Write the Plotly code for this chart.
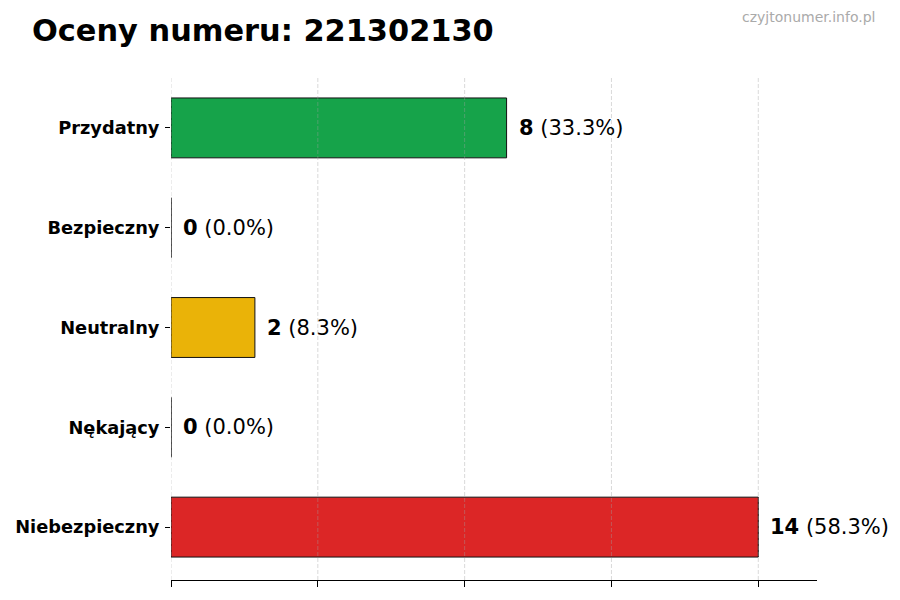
import plotly.graph_objects as go

# dane
categories = ["Przydatny", "Bezpieczny", "Neutralny", "Nękający", "Niebezpieczny"]
counts = [8, 0, 2, 0, 14]
colors = ["#16a34a", "#16a34a", "#eab308", "#eab308", "#dc2626"]
grid_ticks = [0, 3.5, 7, 10.5, 14]

total = sum(counts)

fig = go.Figure()
fig.add_trace(go.Bar(
    x=counts, y=categories, orientation="h",
    width=0.6,
    marker=dict(color=colors, line=dict(color="#111111", width=1)),
    hoverinfo="skip",
))

# etykiety przy slupkach
for cat, val in zip(categories, counts):
    pct = 100 * val / total
    fig.add_annotation(
        x=val, y=cat, xref="x", yref="y",
        text="<b>%d</b> (%.1f%%)" % (val, pct),
        showarrow=False, xanchor="left", xshift=10,
        font=dict(family="DejaVu Sans", size=21, color="#000000"),
    )

# siatka nad slupkami (polprzezroczysta, przerywana)
for t in grid_ticks:
    fig.add_shape(type="line", xref="x", yref="paper", x0=t, x1=t, y0=0, y1=1,
                  layer="above",
                  line=dict(color="rgba(160,160,160,0.4)", width=1, dash="4px,2px"))

fig.update_layout(
    width=900, height=600,
    margin=dict(l=163, r=91, t=68, b=28),
    plot_bgcolor="white", paper_bgcolor="white",
    showlegend=False,
    font=dict(family="DejaVu Sans", color="#000000"),
    title=dict(text="<b>Oceny numeru: 221302130</b>", x=0.0267, xanchor="left",
               y=0.963, yanchor="middle",
               font=dict(family="DejaVu Sans", size=30.4, color="#000000")),
)
fig.add_annotation(
    text="czyjtonumer.info.pl", xref="paper", yref="paper",
    x=1.093, y=1.117, xanchor="right", yanchor="middle", showarrow=False,
    font=dict(family="DejaVu Sans", size=14, color="#aaaaaa"),
)

fig.update_xaxes(
    range=[0, 15.4], tickvals=grid_ticks, showticklabels=False,
    ticks="outside", ticklen=6, tickcolor="#000000",
    showgrid=False,
    showline=True, linecolor="#000000", linewidth=1, zeroline=False,
    automargin=False,
)
fig.update_yaxes(
    range=[4.53, -0.52], categoryorder="array", categoryarray=categories,
    ticks="outside", ticklen=5, tickcolor="#000000",
    tickfont=dict(family="DejaVu Sans", size=17.8, color="#000000"),
    showgrid=False, showline=False, zeroline=False,
    ticklabelstandoff=2, automargin=False,
)
fig.update_yaxes(tickvals=categories, ticktext=["<b>%s</b>" % c for c in categories])

fig.write_html("out.html")
